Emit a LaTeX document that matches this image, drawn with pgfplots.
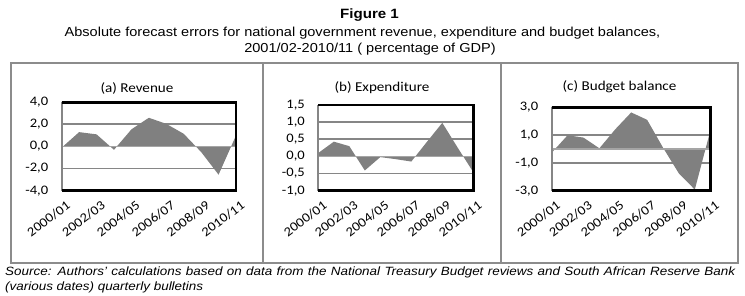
\documentclass[border=0pt]{standalone}
\usepackage{fontspec}
\setmainfont{Liberation Sans}[FakeStretch=1.12]
\newfontfamily\calib[FakeStretch=1.12]{Carlito}
\usepackage{pgfplots}
\pgfplotsset{compat=1.18}
\definecolor{areagray}{RGB}{128,128,128}
\definecolor{gridgray}{RGB}{134,134,134}
\definecolor{framegray}{RGB}{140,140,140}
\definecolor{zerogray}{RGB}{165,165,165}
\pgfplotsset{
  panel/.style={
    scale only axis,
    anchor=south west,
    axis line style={draw=none},
    major tick length=0pt,
    xmin=0, xmax=10,
    xtick={0,2,...,10},
    xticklabels={2000/01,2002/03,2004/05,2006/07,2008/09,2010/11},
    ymajorgrids,
    grid style={gridgray, line width=1.8pt},
    tick label style={font=\calib\fontsize{13}{13}\selectfont},
    yticklabel style={xshift=-10pt},
    xticklabel style={inner sep=0pt, xshift=4pt, yshift=-9pt, rotate=37, anchor=north east},
    clip=false,
  },
}
\begin{document}
\begin{tikzpicture}[x=1pt,y=1pt]
\useasboundingbox (0,0) rectangle (745,295);
% headings
\node[font=\bfseries\fontsize{13.5}{13.5}\selectfont, anchor=base, inner sep=0] at (369.5,276) {Figure 1};
\node[font=\fontsize{13}{13}\selectfont, anchor=base, inner sep=0] at (362.5,258) {Absolute forecast errors for national government revenue, expenditure and budget balances,};
\node[font=\fontsize{13}{13}\selectfont, anchor=base, inner sep=0] at (370,242) {2001/02-2010/11 ( percentage of GDP)};
% frame
\draw[framegray, line width=2pt] (11,32) rectangle (738,232);
\draw[framegray, line width=2pt] (263,32) -- (263,232);
\draw[framegray, line width=2pt] (501,32) -- (501,232);
% panel titles
\node[font=\calib\fontsize{13.5}{13.5}\selectfont] at (137,207) {(a) Revenue};
\node[font=\calib\fontsize{13.5}{13.5}\selectfont] at (382,207) {(b) Expenditure};
\node[font=\calib\fontsize{13.5}{13.5}\selectfont] at (619.5,208) {(c) Budget balance};

% (a) Revenue
\begin{axis}[panel, at={(61.7pt,104.3pt)}, width=174.3pt, height=88.4pt,
  ymin=-4, ymax=4, ytick={-4,-2,0,2,4},
  yticklabels={{-4,0},{-2,0},{0,0},{2,0},{4,0}}]
\addplot[fill=areagray, draw=none] coordinates {
 (0,0) (0,-0.1) (1,1.3) (2,1.1) (3,-0.3) (4,1.55) (5,2.6) (6,2.05) (7,1.15) (8,-0.5) (9,-2.55) (10,1.0) (10,0)} -- cycle;
\draw[zerogray, line width=1.8pt] (axis cs:0,0) -- (axis cs:10,0);
\draw[gridgray, line width=1.8pt] (rel axis cs:0,0) -- (rel axis cs:0,1);
\draw[black, line width=2.5pt] (rel axis cs:0,1) -- (rel axis cs:1,1) -- (rel axis cs:1,0) -- (rel axis cs:0,0);
\end{axis}

% (b) Expenditure
\begin{axis}[panel, at={(318.3pt,104.3pt)}, width=155pt, height=85.7pt,
  ymin=-1, ymax=1.5, ytick={-1,-0.5,0,0.5,1,1.5},
  yticklabels={{-1,0},{-0,5},{0,0},{0,5},{1,0},{1,5}}]
\addplot[fill=areagray, draw=none] coordinates {
 (0,0) (0,0.1) (1,0.43) (2,0.3) (3,-0.41) (4,-0.02) (5,-0.08) (6,-0.15) (7,0.42) (8,0.98) (9,0.25) (10,-0.46) (10,0)} -- cycle;
\draw[zerogray, line width=1.8pt] (axis cs:0,0) -- (axis cs:10,0);
\draw[gridgray, line width=1.8pt] (rel axis cs:0,0) -- (rel axis cs:0,1);
\draw[black, line width=2.5pt] (rel axis cs:0,1) -- (rel axis cs:1,1) -- (rel axis cs:1,0) -- (rel axis cs:0,0);
\end{axis}

% (c) Budget balance
\begin{axis}[panel, at={(551.7pt,104.3pt)}, width=159pt, height=83.4pt,
  ymin=-3, ymax=3, ytick={-3,-1,1,3},
  yticklabels={{-3,0},{-1,0},{1,0},{3,0}}]
\addplot[fill=areagray, draw=none] coordinates {
 (0,0) (0,-0.27) (1,0.99) (2,0.82) (3,0.05) (4,1.42) (5,2.63) (6,2.1) (7,0.1) (8,-1.76) (9,-2.92) (10,1.42) (10,0)} -- cycle;
\draw[zerogray, line width=1.8pt] (axis cs:0,0) -- (axis cs:10,0);
\draw[gridgray, line width=1.8pt] (rel axis cs:0,0) -- (rel axis cs:0,1);
\draw[black, line width=2.5pt] (rel axis cs:0,1) -- (rel axis cs:1,1) -- (rel axis cs:1,0) -- (rel axis cs:0,0);
\end{axis}

% source
\node[anchor=north west, inner sep=0, text width=730pt, align=justify,
  font=\itshape\fontsize{12}{14.5}\selectfont] at (5,28)
 {Source: Authors' calculations based on data from the National Treasury Budget reviews and South African Reserve Bank\linebreak (various dates) quarterly bulletins};
\end{tikzpicture}
\end{document}
